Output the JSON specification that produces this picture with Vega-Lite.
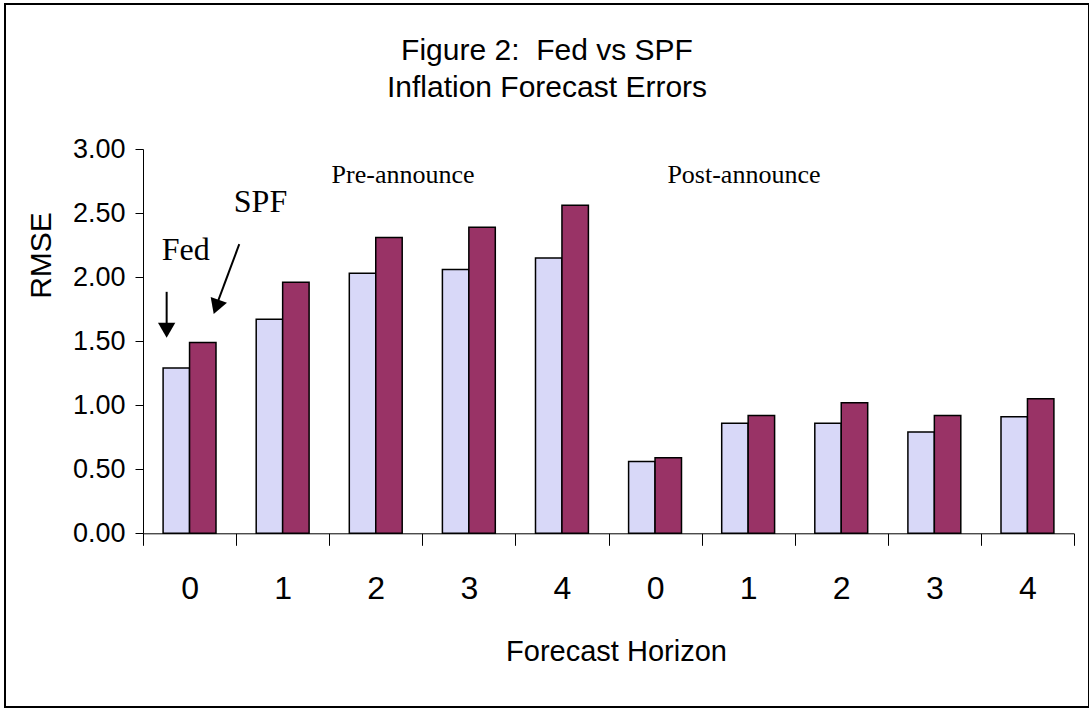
{
  "$schema": "https://vega.github.io/schema/vega-lite/v6.json",
  "autosize": {"type": "none"},
  "padding": {"left": 5, "top": 4, "right": 0, "bottom": 2},
  "width": 1084,
  "height": 703,
  "background": "white",
  "config": {
    "view": {"stroke": "#000000", "strokeWidth": 2},
    "font": "Liberation Sans",
    "title": {"font": "Liberation Sans", "fontSize": 30, "fontWeight": "normal", "color": "#000000", "lineHeight": 37}
  },
  "title": {"text": ["Figure 2:\u00a0 Fed vs SPF", "Inflation Forecast Errors"], "anchor": "middle", "frame": "group", "baseline": "alphabetic", "offset": -123},
  "datasets": {
    "bars": [
      {"slot": "pre-0", "series": "Fed", "rmse": 1.29},
      {"slot": "pre-0", "series": "SPF", "rmse": 1.49},
      {"slot": "pre-1", "series": "Fed", "rmse": 1.67},
      {"slot": "pre-1", "series": "SPF", "rmse": 1.96},
      {"slot": "pre-2", "series": "Fed", "rmse": 2.03},
      {"slot": "pre-2", "series": "SPF", "rmse": 2.31},
      {"slot": "pre-3", "series": "Fed", "rmse": 2.06},
      {"slot": "pre-3", "series": "SPF", "rmse": 2.39},
      {"slot": "pre-4", "series": "Fed", "rmse": 2.15},
      {"slot": "pre-4", "series": "SPF", "rmse": 2.56},
      {"slot": "post-0", "series": "Fed", "rmse": 0.56},
      {"slot": "post-0", "series": "SPF", "rmse": 0.59},
      {"slot": "post-1", "series": "Fed", "rmse": 0.86},
      {"slot": "post-1", "series": "SPF", "rmse": 0.92},
      {"slot": "post-2", "series": "Fed", "rmse": 0.86},
      {"slot": "post-2", "series": "SPF", "rmse": 1.02},
      {"slot": "post-3", "series": "Fed", "rmse": 0.79},
      {"slot": "post-3", "series": "SPF", "rmse": 0.92},
      {"slot": "post-4", "series": "Fed", "rmse": 0.91},
      {"slot": "post-4", "series": "SPF", "rmse": 1.05}
    ],
    "bigNotes": [
      {"label": "Fed", "px": 0.459, "py": 2.21},
      {"label": "SPF", "px": 1.262, "py": 2.587}
    ],
    "smallNotes": [
      {"label": "Pre-announce", "px": 2.793, "py": 2.795},
      {"label": "Post-announce", "px": 6.455, "py": 2.795}
    ],
    "arrows": [
      {"px": 0.254, "py": 1.885, "px2": 0.254, "py2": 1.62},
      {"px": 1.034, "py": 2.257, "px2": 0.80, "py2": 1.80}
    ],
    "heads": [
      {"px": 0.254, "py": 1.585, "dir": 180},
      {"px": 0.787, "py": 1.767, "dir": 199.9}
    ]
  },
  "layer": [
    {
      "data": {"name": "bars"},
      "mark": {"type": "bar", "stroke": "#000000", "strokeWidth": 1.5},
      "encoding": {
        "x": {
          "field": "slot", "type": "nominal",
          "scale": {"domain": ["pre-0", "pre-1", "pre-2", "pre-3", "pre-4", "post-0", "post-1", "post-2", "post-3", "post-4"], "range": [138, 1069], "paddingInner": 0, "paddingOuter": 0},
          "axis": {
            "orient": "bottom", "offset": -173.7, "tickBand": "extent", "tickSize": 12, "tickColor": "#000000", "tickWidth": 1,
            "domainColor": "#000000", "domainWidth": 1, "grid": false,
            "labelAngle": 0, "labelExpr": "slice(datum.label, -1)", "labelFont": "Liberation Sans", "labelFontSize": 32, "labelColor": "#000000", "labelBaseline": "middle", "labelPadding": 42.7,
            "title": "Forecast Horizon", "titleFont": "Liberation Sans", "titleFontSize": 29, "titleFontWeight": "normal", "titleColor": "#000000", "titleBaseline": "middle", "titleY": 118, "titleX": 611
          }
        },
        "xOffset": {"field": "series", "type": "nominal", "scale": {"domain": ["Fed", "SPF"], "paddingInner": 0, "paddingOuter": 0.76}},
        "y": {
          "field": "rmse", "type": "quantitative",
          "scale": {"domain": [0, 3], "range": [529.3, 145], "nice": false, "zero": true},
          "axis": {
            "orient": "left", "offset": -138, "values": [0, 0.5, 1, 1.5, 2, 2.5, 3], "format": ".2f", "tickSize": 8, "tickColor": "#000000", "domainColor": "#000000", "grid": false,
            "labelFont": "Liberation Sans", "labelFontSize": 27, "labelColor": "#000000", "labelPadding": 10,
            "title": "RMSE", "titleFont": "Liberation Sans", "titleFontSize": 30, "titleFontWeight": "normal", "titleColor": "#000000", "titleAngle": -90, "titleBaseline": "middle", "titleAlign": "center", "titleX": -102, "titleY": 251
          }
        },
        "color": {"field": "series", "type": "nominal", "scale": {"domain": ["Fed", "SPF"], "range": ["#D8D8F8", "#993366"]}, "legend": null}
      }
    },
    {
      "data": {"name": "bigNotes"},
      "mark": {"type": "text", "font": "Liberation Serif", "fontSize": 32, "color": "#000000", "align": "center", "baseline": "middle"},
      "encoding": {
        "x": {"field": "px", "type": "quantitative", "scale": {"domain": [0, 10], "range": [138, 1069], "nice": false, "zero": false}, "axis": null},
        "y": {"field": "py", "type": "quantitative"},
        "text": {"field": "label"}
      }
    },
    {
      "data": {"name": "smallNotes"},
      "mark": {"type": "text", "font": "Liberation Serif", "fontSize": 26, "color": "#000000", "align": "center", "baseline": "middle"},
      "encoding": {
        "x": {"field": "px", "type": "quantitative", "scale": {"domain": [0, 10], "range": [138, 1069], "nice": false, "zero": false}, "axis": null},
        "y": {"field": "py", "type": "quantitative"},
        "text": {"field": "label"}
      }
    },
    {
      "data": {"name": "arrows"},
      "mark": {"type": "rule", "color": "#000000", "strokeWidth": 2},
      "encoding": {
        "x": {"field": "px", "type": "quantitative", "scale": {"domain": [0, 10], "range": [138, 1069], "nice": false, "zero": false}, "axis": null},
        "y": {"field": "py", "type": "quantitative"},
        "x2": {"field": "px2"},
        "y2": {"field": "py2"}
      }
    },
    {
      "data": {"name": "heads"},
      "mark": {"type": "point", "shape": "triangle-up", "filled": true, "color": "#000000", "size": 300, "opacity": 1},
      "encoding": {
        "x": {"field": "px", "type": "quantitative", "scale": {"domain": [0, 10], "range": [138, 1069], "nice": false, "zero": false}, "axis": null},
        "y": {"field": "py", "type": "quantitative"},
        "angle": {"field": "dir", "type": "quantitative", "scale": null}
      }
    }
  ],
  "resolve": {"scale": {"x": "independent", "y": "shared"}}
}
